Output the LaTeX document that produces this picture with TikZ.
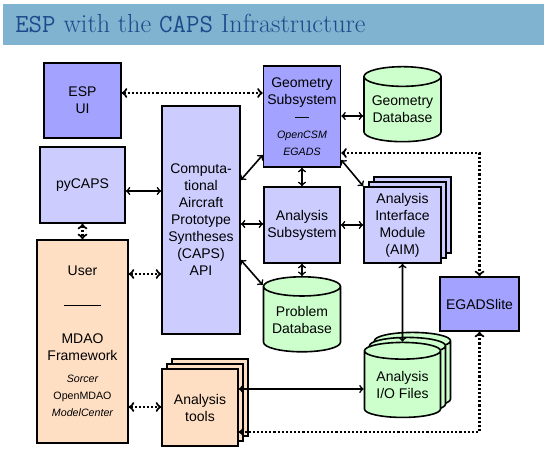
\documentclass[tikz,border=0pt]{standalone}
\usepackage{fontspec}
\newfontfamily\helv{Liberation Sans}
\usetikzlibrary{shapes.geometric,shadows}
\definecolor{barblue}{HTML}{80B3CF}
\definecolor{titleblue}{HTML}{1A4C8C}
\definecolor{darkpurple}{HTML}{A3A3FF}
\definecolor{lightpurple}{HTML}{CCCCFF}
\definecolor{dbgreen}{HTML}{CCFFCC}
\definecolor{peach}{HTML}{FFDFC4}
\newcommand{\sm}[1]{{\fontsize{8}{12.75}\selectfont#1}}

\begin{document}
\begin{tikzpicture}[x=0.75pt,y=-0.75pt,
		box/.style={draw,line width=1.2pt,inner sep=0pt,align=center,font=\helv\fontsize{10.5}{12.75}\selectfont},
		darkbox/.style={box,fill=darkpurple},
		lightbox/.style={box,fill=lightpurple},
		toolbox/.style={box,fill=peach},
		dbase/.style={box,cylinder,shape border rotate=90,aspect=0.32,fill=dbgreen,minimum width=57.75pt,minimum height=56.25pt},
		stack/.style={double copy shadow={shadow xshift=3.75pt,shadow yshift=3.75pt}},
		link/.style={<->,line width=1.2pt},
		dotlink/.style={<->,line width=1.6pt,dash pattern=on 1.6pt off 1.5pt},
		>=to
		]
		\useasboundingbox (0,0) rectangle (547,463);
		\fill[barblue] (3,4) rectangle (544,45);
		\node[anchor=base west,inner sep=0pt,text=titleblue,font=\fontsize{19.6}{22}\selectfont] (title) at (15,33) {\texttt{ESP} with the \texttt{CAPS} Infrastructure};
		
		\node[darkbox,minimum width=57.75pt,minimum height=56.25pt] (espui) at (82.5,100.5) {ESP\\UI};
		\node[lightbox,minimum width=63.75pt,minimum height=57pt] (pycaps) at (82.5,185) {pyCAPS};
		\node[toolbox,minimum width=68.25pt,minimum height=152.25pt] (user) at (82.5,341.5) {User\\[12.75pt]\rule[3pt]{28pt}{0.5pt}\\[12.75pt]MDAO\\Framework\\[4pt]\sm{\itshape Sorcer}\\\sm{OpenMDAO}\\\sm{\itshape ModelCenter}};
		\node[lightbox,minimum width=58.5pt,minimum height=171pt] (caps) at (201,220) {Computa-\\tional\\Aircraft\\Prototype\\Syntheses\\(CAPS)\\API};
		\node[toolbox,stack,minimum width=57pt,minimum height=57.75pt] (tools) at (200,407.5) {Analysis\\tools};
		
		\node[darkbox,minimum width=57.75pt,minimum height=75.75pt] (geom) at (302,116.5) {Geometry\\Subsystem\\—\\\sm{\itshape OpenCSM}\\\sm{\itshape EGADS}};
		\node[lightbox,minimum width=57pt,minimum height=57pt] (anasub) at (302,225) {Analysis\\Subsystem};
		\node[dbase] (probdb) at (302,319.5) {Problem\\Database};
		
		\node[dbase] (geomdb) at (402.5,109.5) {Geometry\\Database};
		\node[lightbox,stack,minimum width=57.75pt,minimum height=57pt] (aim) at (402.5,225) {Analysis\\Interface\\Module\\(AIM)};
		\node[dbase,stack,minimum width=57pt] (iofiles) at (402.5,384.5) {Analysis\\I/O Files};
		\node[darkbox,minimum width=59.25pt,minimum height=40.5pt] (egadslite) at (479.5,304) {EGADSlite};
		
		\draw[dotlink] (espui.east |- 0,93) -- (geom.west |- 0,93);
		\draw[link] (pycaps.east |- 0,191) -- (caps.west |- 0,191);
		\draw[dotlink] (pycaps.south) -- (user.north);
		\draw[dotlink] (user.east |- 0,274) -- (caps.west |- 0,274);
		\draw[dotlink] (user.east |- 0,407) -- (tools.west |- 0,407);
		\draw[link] (caps.east |- 0,180) -- (geom.west |- 0,155);
		\draw[link] (caps.east |- 0,224) -- (anasub.west |- 0,224);
		\draw[link] (caps.east |- 0,260) -- (probdb.west |- 0,285);
		\draw[link] (geom.east |- 0,116) -- (geomdb.west |- 0,116);
		\draw[link] (geom.south) -- (anasub.north);
		\draw[link] (geom.east |- 0,160) -- (aim.north west);
		\draw[link] (anasub.east) -- (aim.west);
		\draw[link] (anasub.south) -- (probdb.north);
		\draw[link] (aim.south) -- (iofiles.north);
		\draw[link] (tools.east |- 0,389) -- (iofiles.west |- 0,389);
		\draw[dotlink] (geom.east |- 0,153) -| (egadslite.north);
		\draw[dotlink] (tools.east |- 0,432) -| (egadslite.south);
	\end{tikzpicture}
\end{document}
